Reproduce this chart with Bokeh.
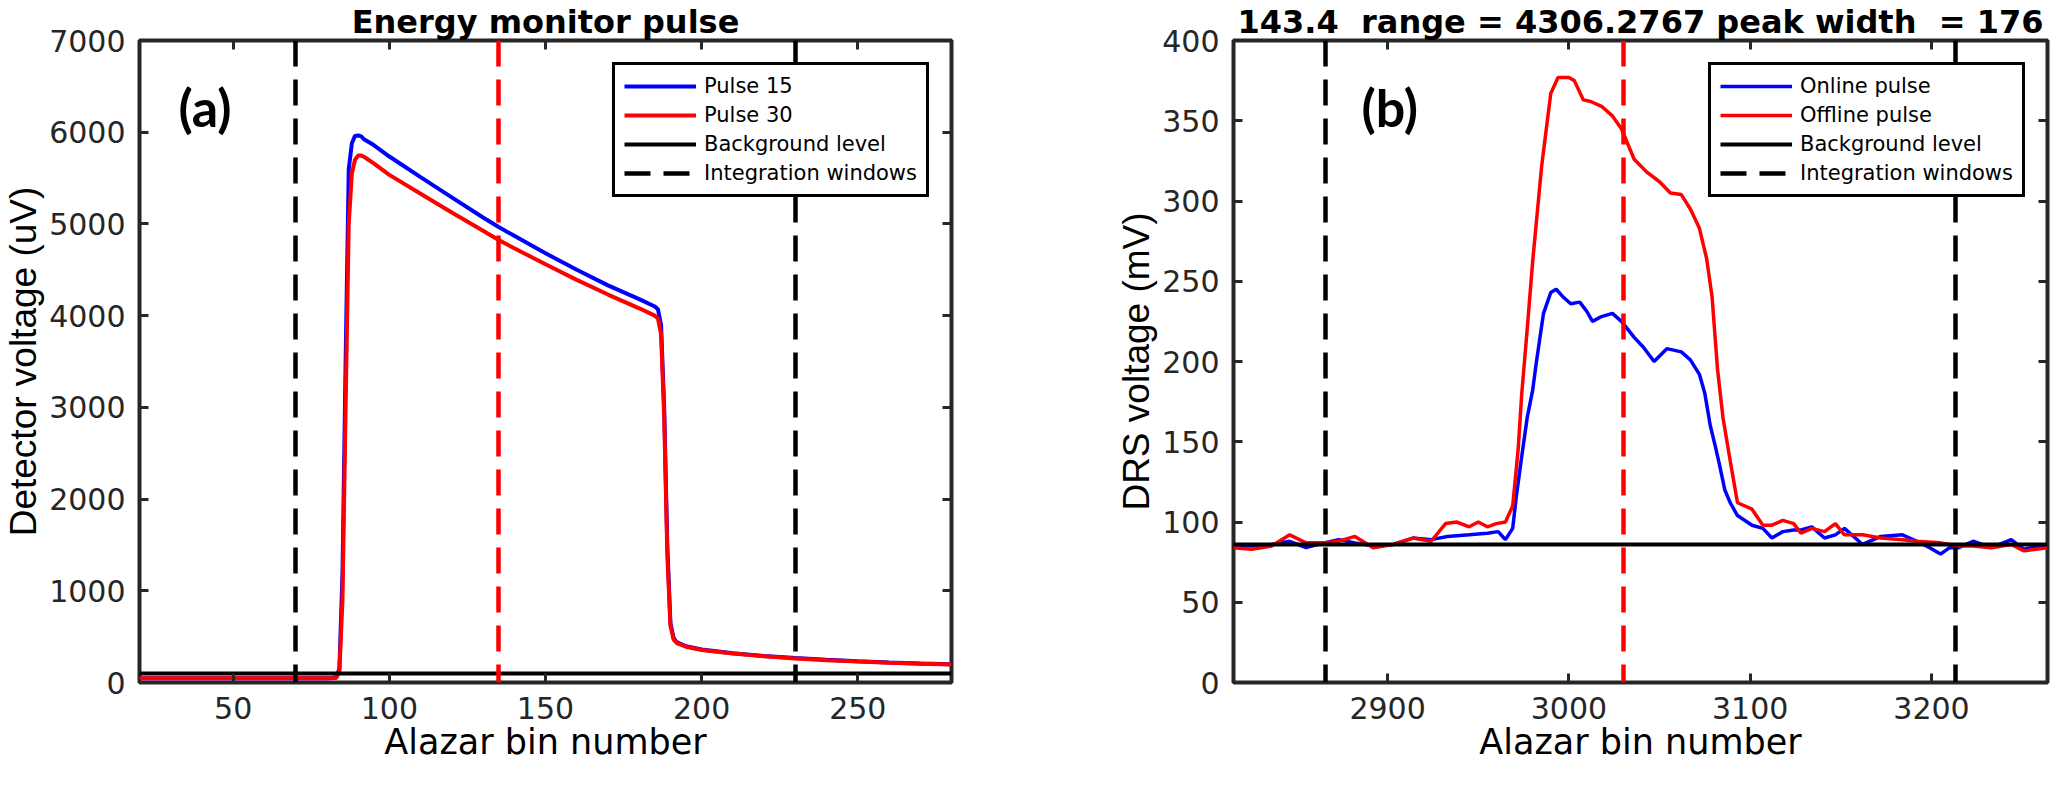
from bokeh.plotting import figure
from bokeh.layouts import row
from bokeh.models import FixedTicker, LinearAxis, Label, Range1d, CustomJSTickFormatter
from bokeh.embed import file_html
from bokeh.resources import INLINE

# ---- panel (a): energy monitor pulse ----
bins_a = [20, 40, 60, 80, 83, 84, 85, 86, 87, 88, 89, 90, 91, 92, 95, 100, 110, 120, 130, 135,
          140, 150, 160, 170, 180, 185, 186, 187, 188, 189, 190, 191, 192, 195, 200, 210, 220,
          230, 240, 250, 260, 270, 280]
pulse15 = [45, 45, 45, 45, 55, 150, 1200, 3500, 5600, 5880, 5960, 5965, 5955, 5920, 5860, 5735,
           5510, 5290, 5070, 4966, 4870, 4680, 4500, 4330, 4180, 4100, 4070, 3900, 3000, 1500,
           650, 485, 440, 395, 360, 320, 290, 266, 247, 232, 219, 208, 198]
pulse30 = [45, 45, 45, 45, 50, 120, 900, 3000, 5000, 5550, 5700, 5745, 5745, 5730, 5660, 5535,
           5330, 5125, 4925, 4825, 4735, 4560, 4390, 4230, 4080, 4000, 3970, 3800, 2900, 1400,
           620, 470, 430, 390, 355, 315, 285, 262, 243, 228, 215, 205, 195]
background_a = [95]
windows_a = [70, 230]
marker_a = [135]
xticks_a = [50, 100, 150, 200, 250]
yticks_a = [0, 1000, 2000, 3000, 4000, 5000, 6000, 7000]

# ---- panel (b): DRS pulse ----
bins_off = [2815, 2825, 2836, 2846, 2855, 2865, 2873, 2882, 2892, 2903, 2914, 2924, 2932, 2938,
            2945, 2950, 2955, 2960, 2965, 2969, 2972, 2974, 2977, 2980, 2985, 2990, 2994, 3000,
            3003, 3008, 3012, 3018, 3024, 3029, 3036, 3043, 3050, 3056, 3062, 3067, 3072, 3076,
            3079, 3082, 3085, 3089, 3093, 3101, 3107, 3112, 3118, 3124, 3128, 3134, 3141, 3147,
            3152, 3162, 3172, 3184, 3192, 3205, 3215, 3223, 3233, 3244, 3251, 3264]
offline = [84, 83, 85, 92, 87, 87, 88, 91, 84, 86, 90, 88, 99, 100, 97, 100, 97, 99, 100, 110,
           145, 180, 220, 262, 322, 367, 377, 377, 375, 363, 362, 359, 353, 345, 326, 318, 312,
           305, 304, 295, 283, 264, 240, 195, 165, 138, 112, 108, 98, 98, 101, 99, 93, 96, 94,
           99, 92, 92, 90, 89, 88, 87, 85, 85, 84, 86, 82, 84]
bins_on = [2815, 2825, 2836, 2846, 2855, 2865, 2873, 2882, 2892, 2903, 2914, 2924, 2933, 2945,
           2955, 2961, 2965, 2969, 2971, 2974, 2977, 2980, 2982, 2986, 2990, 2993, 2997, 3001,
           3006, 3010, 3013, 3018, 3024, 3029, 3036, 3041, 3047, 3054, 3062, 3067, 3072, 3075,
           3078, 3081, 3083, 3086, 3089, 3093, 3101, 3107, 3112, 3118, 3124, 3128, 3134, 3141,
           3147, 3152, 3162, 3172, 3184, 3192, 3199, 3205, 3210, 3215, 3223, 3233, 3244, 3251, 3264]
online = [86, 85, 86, 88, 84, 87, 89, 87, 85, 86, 90, 89, 91, 92, 93, 94, 89, 96, 116, 141, 165,
          182, 199, 230, 243, 245, 240, 236, 237, 231, 225, 228, 230, 225, 215, 209, 200, 208,
          206, 201, 192, 180, 160, 146, 136, 120, 112, 104, 98, 96, 90, 94, 95, 95, 97, 90, 92,
          96, 86, 91, 92, 88, 84, 80, 84, 84, 88, 84, 89, 83, 86]
background_b = [86]
windows_b = [2866, 3213]
marker_b = [3030]
xticks_b = [2900, 3000, 3100, 3200]
yticks_b = [0, 50, 100, 150, 200, 250, 300, 350, 400]

AX = "#262626"
DASH = "26 13"


def style(p, xticks, yticks, ylabel):
    p.outline_line_color = AX
    p.outline_line_width = 4
    p.xgrid.visible = False
    p.ygrid.visible = False
    p.title.text_font = "DejaVu Sans"
    p.title.text_font_size = "32px"
    p.title.text_font_style = "bold"
    p.title.text_color = "black"
    p.title.align = "center"
    p.title.standoff = 0
    for ax, ticks in ((p.xaxis[0], xticks), (p.yaxis[0], yticks)):
        ax.ticker = FixedTicker(ticks=ticks)
        ax.axis_line_color = None
        ax.major_tick_in = 9
        ax.major_tick_out = 0
        ax.major_tick_line_width = 3
        ax.major_tick_line_color = AX
        ax.minor_tick_line_color = None
        ax.major_label_text_font = "DejaVu Sans"
        ax.major_label_text_font_size = "30px"
        ax.major_label_text_color = AX
        ax.major_label_standoff = 14
        ax.axis_label_text_font_style = "normal"
        ax.axis_label_text_color = "black"
        ax.axis_label_standoff = 2
    p.xaxis[0].axis_label = "Alazar bin number"
    p.xaxis[0].axis_label_text_font = "DejaVu Sans"
    p.xaxis[0].axis_label_text_font_size = "35px"
    p.xaxis[0].axis_label_standoff = 0
    p.yaxis[0].axis_label = ylabel
    p.yaxis[0].axis_label_text_font = "Liberation Sans"
    p.yaxis[0].axis_label_text_font_size = "37px"
    # box ticks on the top and right edges, like the matlab figure
    for loc, ticks in (("above", xticks), ("right", yticks)):
        ax = LinearAxis(ticker=FixedTicker(ticks=ticks),
                        formatter=CustomJSTickFormatter(code="return ''"))
        ax.axis_line_color = None
        ax.major_tick_in = 9
        ax.major_tick_out = 0
        ax.major_tick_line_width = 3
        ax.major_tick_line_color = AX
        ax.minor_tick_line_color = None
        ax.major_label_text_font_size = "0px"
        ax.major_label_standoff = 0
        p.add_layout(ax, loc)


def legend_style(p):
    lg = p.legend[0]
    lg.location = "top_right"
    lg.margin = 22
    lg.border_line_color = "black"
    lg.border_line_alpha = 1
    lg.border_line_width = 3
    lg.background_fill_color = "white"
    lg.background_fill_alpha = 1
    lg.label_text_font = "DejaVu Sans"
    lg.label_text_font_size = "21px"
    lg.label_text_color = "black"
    lg.glyph_width = 72
    lg.label_standoff = 8
    lg.padding = 9
    lg.spacing = 5


# ---- figure (a) ----
p1 = figure(width=966, height=772, output_backend="svg", toolbar_location=None,
            x_range=Range1d(20, 280), y_range=Range1d(0, 7000),
            title="Energy monitor pulse",
            min_border_left=130, min_border_right=15, min_border_top=39, min_border_bottom=90)
style(p1, xticks_a, yticks_a, "Detector voltage (uV)")
p1.line(bins_a, pulse15, line_color="#0000ff", line_width=4, legend_label="Pulse 15")
p1.line(bins_a, pulse30, line_color="#ff0000", line_width=4, legend_label="Pulse 30")
p1.hspan(y=background_a, line_color="black", line_width=4, legend_label="Background level")
p1.vspan(x=windows_a, line_color="black", line_width=4.5, line_dash=DASH,
         legend_label="Integration windows")
p1.vspan(x=marker_a, line_color="#ff0000", line_width=4.5, line_dash=DASH)
legend_style(p1)
p1.add_layout(Label(x=39, y=576, x_units="screen", y_units="screen", text="(a)",
                    text_font="Lato", text_font_style="bold", text_font_size="52px",
                    text_baseline="middle", text_color="black"))

# ---- figure (b) ----
p2 = figure(width=1085, height=772, output_backend="svg", toolbar_location=None,
            x_range=Range1d(2815, 3264), y_range=Range1d(0, 400),
            title="143.4\u00a0 range = 4306.2767 peak width\u00a0 = 176",
            min_border_left=267, min_border_right=4, min_border_top=39, min_border_bottom=90)
style(p2, xticks_b, yticks_b, "DRS voltage (mV)")
p2.line(bins_on, online, line_color="#0000ff", line_width=3.5, legend_label="Online pulse")
p2.line(bins_off, offline, line_color="#ff0000", line_width=3.5, legend_label="Offline pulse")
p2.hspan(y=background_b, line_color="black", line_width=4, legend_label="Background level")
p2.vspan(x=windows_b, line_color="black", line_width=4.5, line_dash=DASH,
         legend_label="Integration windows")
p2.vspan(x=marker_b, line_color="#ff0000", line_width=4.5, line_dash=DASH)
legend_style(p2)
p2.add_layout(Label(x=128, y=576, x_units="screen", y_units="screen", text="(b)",
                    text_font="Lato", text_font_style="bold", text_font_size="52px",
                    text_baseline="middle", text_color="black"))

layout = row(p1, p2)
open("out.html", "w").write(file_html(layout, INLINE))
